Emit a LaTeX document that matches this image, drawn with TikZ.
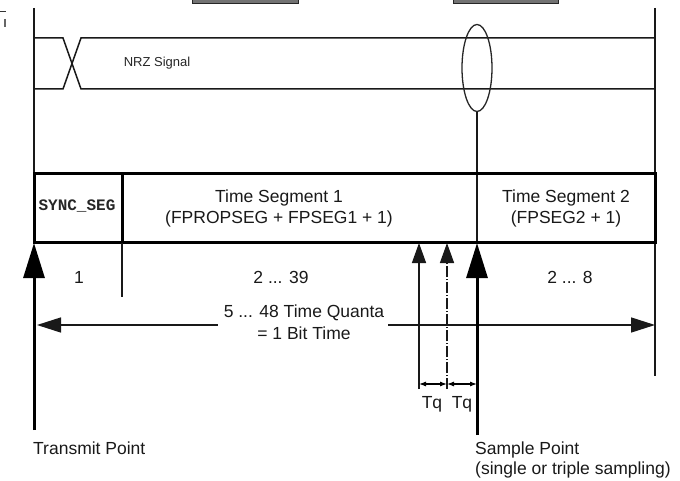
\documentclass[tikz,border=0pt]{standalone}
\usepackage{fontspec}
\setmainfont{Liberation Sans}
\newfontfamily\monof{Liberation Mono}
\usetikzlibrary{arrows.meta}
\begin{document}
\begin{tikzpicture}[x=1pt,y=-1pt,
  thinline/.style={line width=1.5pt,black!90},
  thickline/.style={line width=3pt,black},
  lbl/.style={font=\fontsize{17.5}{20}\selectfont, inner sep=0pt, text=black!90},
  bigtip/.style={-{Triangle[length=35pt,width=21pt]}},
  smalltip/.style={-{Triangle[length=20pt,width=14pt]}},
  midtip/.style={-{Triangle[length=24pt,width=15pt]}},
  tqtip/.style={{Latex[length=7pt,width=5pt]}-{Latex[length=7pt,width=5pt]}},
  graybox/.style={fill=black!55,draw=black!85,line width=1pt},
]
\useasboundingbox (0,0) rectangle (680,481);

% top gray boxes (cut off)
\draw[graybox] (192,-3) rectangle (298,4);
\draw[graybox] (453,-3) rectangle (558,4);
% small mark top left
\draw[line width=1pt,black!80] (0,12) -- (6,12);
\draw[line width=1.2pt,black!60] (5,19) -- (5,27);

% coordinates
\coordinate (LT) at (34,8);
\coordinate (LB) at (34,174);
\coordinate (RT) at (655,8);
\coordinate (RB) at (655,376);
\coordinate (boxTL) at (34,174);
\coordinate (boxBR) at (655,243);
\coordinate (divT) at (122,174);
\coordinate (divB) at (122,243);
\coordinate (divE) at (122,297);
\coordinate (sampT) at (477,112);
\coordinate (sampB) at (477,243);
\coordinate (sampE) at (477,435);
\coordinate (transB) at (34,243);
\coordinate (transE) at (34,430);
\coordinate (aT) at (419,243);
\coordinate (aE) at (419,389);
\coordinate (bT) at (447,243);
\coordinate (bE) at (447,389);
\coordinate (tqA) at (419,384);
\coordinate (tqB) at (447,384);
\coordinate (tqC) at (477,384);
\coordinate (bitL) at (34,325);
\coordinate (bitR) at (655,325);

% frame lines
\draw[thinline] (LT) -- (LB);
\draw[thinline] (RT) -- (RB);

% NRZ signal
\draw[thinline] (34,38) -- (63,38) -- (81,89) -- (655,89);
\draw[thinline] (34,89) -- (63,89) -- (81,38) -- (655,38);
\node[font=\fontsize{13}{15}\selectfont, inner sep=0pt, text=black!85] (nrz) at (157,63) {NRZ Signal};

% sample ellipse
\draw[line width=1.3pt,black!85] (477,68) ellipse [x radius=15, y radius=43.5];
\draw[thinline] (sampT) -- (sampB);

% segment box
\draw[thickline] (boxTL) rectangle (boxBR);
\draw[thickline] (divT) -- (divB);
\draw[thinline] (divB) -- (divE);

\node[font=\monof\bfseries\fontsize{16}{18}\selectfont, inner sep=0pt, text=black!85] (sync) at (77,206) {SYNC\_SEG};
\node[lbl] (ts1a) at (279,198) {Time Segment 1};
\node[lbl] (ts1b) at (279,219) {(FPROPSEG + FPSEG1 + 1)};
\node[lbl] (ts2a) at (566,198) {Time Segment 2};
\node[lbl] (ts2b) at (566,219) {(FPSEG2 + 1)};

\node[lbl] (n1) at (79,277) {1};
\node[lbl] (n2) at (281,277) {2 ... 39};
\node[lbl] (n3) at (570,277) {2 ... 8};

% bit time arrow
\node[lbl, align=center] (bit) at (304,322) {5 ... 48 Time Quanta\\[2pt]= 1 Bit Time};
\draw[thinline, midtip] (bit.west |- bitL) ++(-6,0) -- ([xshift=3pt]bitL);
\draw[thinline, midtip] (bit.east |- bitR) ++(4,0) -- (bitR);

% transmit arrow
\draw[thickline, bigtip] (transE) -- (transB);
\node[lbl, anchor=west] (tp) at (33,448) {Transmit Point};

% sample arrow
\draw[thickline, bigtip] (sampE) -- (sampB);
\node[lbl, anchor=west] (sp1) at (475,450) {Sample Point};
\node[lbl, anchor=west] (sp2) at (475,470) {(single or triple sampling)};

% other sample points
\draw[thinline, smalltip] (aE) -- (aT);
\draw[thinline, smalltip, dash pattern=on 11pt off 2pt on 1pt off 2pt] (bE) -- (bT);

% Tq dimensions
\draw[line width=1.1pt, tqtip] (tqA) -- (tqB);
\draw[line width=1.1pt, tqtip] (tqB) -- (tqC);
\node[lbl] (tq1) at (432,404) {Tq};
\node[lbl] (tq2) at (462,404) {Tq};
\end{tikzpicture}
\end{document}
